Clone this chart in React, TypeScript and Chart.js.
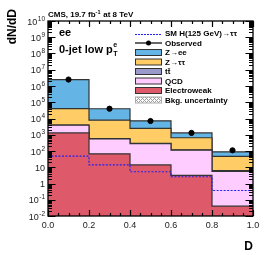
import React, { useEffect, useRef } from 'react';
import { Chart, registerables } from 'chart.js';
Chart.register(...registerables);

// ---- data ----
const binEdges = [0, 0.2, 0.4, 0.6, 0.8, 1.0];
const binCenters = [0.1, 0.3, 0.5, 0.7, 0.9];
const observed = [2.5e6, 4.0e4, 7.0e3, 1.3e3, 110];
const zee = [2.46e6, 32000, 4700, 650, 42];
const ztt = [36000, 7300, 2200, 535, 41];
const ttbar = [60, 25, 12, 5, 0.6];
const qcd = [2600, 490, 270, 109, 5.6];
const ewk = [1300, 67, 14, 3.2, 0.04];
const signal = [48, 14, 5.3, 2.6, 0.37];
const yTickExponents = [-2, -1, 0, 1, 2, 3, 4, 5, 6, 7, 8, 9, 10];
const xTickValues = [0, 0.2, 0.4, 0.6, 0.8, 1.0];
const legendLabels = ['SM H(125 GeV)\u2192\u03c4\u03c4', 'Observed', 'Z\u2192ee', 'Z\u2192\u03c4\u03c4', 'tt\u0304', 'QCD', 'Electroweak', 'Bkg. uncertainty'];

const COLORS = {
  zee: '#64B4E6',
  ztt: '#FFCC66',
  tt: '#9999CC',
  qcd: '#FFCCFF',
  ewk: '#DE5A6A',
  sig: '#2020F0',
  line: '#333333',
};
const FONT = '"Liberation Sans", Arial, Helvetica, sans-serif';

function cumulate(...arrs: number[][]): number[] {
  return arrs[0].map((_, i) => arrs.reduce((s, a) => s + a[i], 0));
}
function stepPoints(vals: number[]) {
  const v = [...vals, vals[vals.length - 1]];
  return binEdges.map((x, i) => ({ x, y: v[i] }));
}

function hatchPattern(ctx: CanvasRenderingContext2D) {
  const c = document.createElement('canvas');
  c.width = 4; c.height = 4;
  const g = c.getContext('2d')!;
  g.fillStyle = '#ffffff'; g.fillRect(0, 0, 4, 4);
  g.fillStyle = '#999999';
  g.fillRect(0, 0, 1, 1); g.fillRect(2, 2, 1, 1); g.fillRect(1, 1, 1, 1); g.fillRect(3, 3, 1, 1);
  g.fillRect(3, 1, 1, 1); g.fillRect(1, 3, 1, 1);
  return ctx.createPattern(c, 'repeat')!;
}

function drawSup(ctx: CanvasRenderingContext2D, base: string, exp: string, rightX: number, cy: number) {
  ctx.font = `9px ${FONT}`;
  const wb = ctx.measureText(base).width;
  ctx.font = `6.5px ${FONT}`;
  const we = exp ? ctx.measureText(exp).width + 0.5 : 0;
  const left = rightX - wb - we;
  ctx.textAlign = 'left';
  ctx.textBaseline = 'alphabetic';
  ctx.font = `9px ${FONT}`;
  ctx.fillText(base, left, cy + 3.5);
  if (exp) {
    ctx.font = `6.5px ${FONT}`;
    ctx.fillText(exp, left + wb + 0.5, cy - 0.5);
  }
}

const overlay = {
  id: 'overlay',
  afterDraw(chart: any) {
    const { ctx, chartArea: a, scales } = chart;
    const xs = scales.x, ys = scales.y;
    ctx.save();
    ctx.fillStyle = '#000';
    ctx.strokeStyle = '#000';
    // frame
    ctx.lineWidth = 1.3;
    ctx.strokeRect(a.left, a.top, a.right - a.left, a.bottom - a.top);
    // y ticks
    ctx.lineWidth = 1.2;
    ctx.beginPath();
    yTickExponents.forEach((k) => {
      const p = Math.round(ys.getPixelForValue(Math.pow(10, k))) + 0.5;
      ctx.moveTo(a.left, p); ctx.lineTo(a.left + 7.5, p);
      ctx.moveTo(a.right, p); ctx.lineTo(a.right - 7.5, p);
      if (k < 10) {
        for (let m = 2; m <= 9; m++) {
          const q = Math.round(ys.getPixelForValue(m * Math.pow(10, k))) + 0.5;
          ctx.moveTo(a.left, q); ctx.lineTo(a.left + 4, q);
          ctx.moveTo(a.right, q); ctx.lineTo(a.right - 4, q);
        }
      }
    });
    // x ticks
    for (let i = 0; i <= 20; i++) {
      const v = i * 0.05;
      const major = i % 4 === 0;
      const len = major ? 6 : 3;
      const p = Math.round(xs.getPixelForValue(v)) + 0.5;
      ctx.moveTo(p, a.bottom); ctx.lineTo(p, a.bottom - len);
      ctx.moveTo(p, a.top); ctx.lineTo(p, a.top + len);
    }
    ctx.stroke();
    // y labels
    ctx.fillStyle = '#222';
    yTickExponents.forEach((k) => {
      const p = ys.getPixelForValue(Math.pow(10, k));
      if (k === 0) drawSup(ctx, '1', '', 45, p);
      else if (k === 1) drawSup(ctx, '10', '', 45, p);
      else drawSup(ctx, '10', String(k), 45, p);
    });
    // x labels
    ctx.font = `9px ${FONT}`;
    ctx.textAlign = 'center';
    ctx.textBaseline = 'middle';
    xTickValues.forEach((v) => {
      ctx.fillText(v.toFixed(1), xs.getPixelForValue(v), a.bottom + 10);
    });
    // axis titles
    ctx.fillStyle = '#000';
    ctx.font = `bold 12px ${FONT}`;
    ctx.textAlign = 'right';
    ctx.textBaseline = 'alphabetic';
    ctx.fillText('D', a.right, a.bottom + 34);
    ctx.save();
    ctx.translate(16, 9);
    ctx.rotate(-Math.PI / 2);
    ctx.textAlign = 'right';
    ctx.fillText('dN/dD', 0, 0);
    ctx.restore();
    // CMS label
    ctx.textAlign = 'left';
    ctx.font = `bold 8px ${FONT}`;
    let tx = a.left;
    const ty = a.top - 4;
    const t1 = 'CMS, 19.7 fb';
    ctx.fillText(t1, tx, ty); tx += ctx.measureText(t1).width;
    ctx.font = `bold 5.5px ${FONT}`;
    ctx.fillText('-1', tx, ty - 3); tx += ctx.measureText('-1').width + 0.5;
    ctx.font = `bold 8px ${FONT}`;
    ctx.fillText(' at 8 TeV', tx, ty);
    // category labels
    ctx.font = `bold 11px ${FONT}`;
    ctx.fillText('ee', a.left + 11, a.top + 15);
    const c1 = '0-jet low p';
    const cx0 = a.left + 11, cy0 = a.top + 32;
    ctx.fillText(c1, cx0, cy0);
    const w1 = ctx.measureText(c1).width;
    ctx.font = `bold 7px ${FONT}`;
    ctx.fillText('T', cx0 + w1 + 0.5, cy0 + 3);
    ctx.fillText('e', cx0 + w1 + 0.5, cy0 - 6);
    // legend
    const rows = legendLabels.map((_, i) => a.top + 12.5 + i * 9.5);
    const bx0 = 135, bx1 = 162, tx0 = 165;
    ctx.font = `bold 8px ${FONT}`;
    ctx.textBaseline = 'middle';
    legendLabels.forEach((lab, i) => {
      const ry = rows[i];
      if (i === 0) {
        ctx.save();
        const ly = Math.round(ry) + 0.5;
        ctx.strokeStyle = COLORS.sig; ctx.lineWidth = 1; ctx.setLineDash([2, 1]);
        ctx.beginPath(); ctx.moveTo(bx0, ly); ctx.lineTo(bx1, ly); ctx.stroke();
        ctx.restore();
      } else if (i === 1) {
        ctx.save();
        ctx.strokeStyle = '#000'; ctx.lineWidth = 1.2;
        ctx.beginPath(); ctx.moveTo(bx0, ry); ctx.lineTo(bx1, ry); ctx.stroke();
        ctx.beginPath(); ctx.arc((bx0 + bx1) / 2, ry, 2.5, 0, Math.PI * 2); ctx.fill();
        ctx.restore();
      } else {
        const fills = [null, null, COLORS.zee, COLORS.ztt, COLORS.tt, COLORS.qcd, COLORS.ewk, hatchPattern(ctx)];
        ctx.save();
        ctx.fillStyle = fills[i] as any;
        ctx.fillRect(bx0, ry - 3, bx1 - bx0, 6);
        ctx.strokeStyle = i === 7 ? '#aaaaaa' : COLORS.line; ctx.lineWidth = 1;
        ctx.strokeRect(bx0 + 0.5, ry - 3, bx1 - bx0 - 1, 6);
        ctx.restore();
      }
      ctx.fillStyle = '#000';
      ctx.textAlign = 'left';
      ctx.fillText(lab, tx0, ry + 0.5);
    });
    ctx.restore();
  },
};

export default function App() {
  const ref = useRef<HTMLCanvasElement>(null);
  useEffect(() => {
    const c5 = cumulate(ewk, qcd, ttbar, ztt, zee);
    const c4 = cumulate(ewk, qcd, ttbar, ztt);
    const c3 = cumulate(ewk, qcd, ttbar);
    const c2 = cumulate(ewk, qcd);
    const c1 = cumulate(ewk);
    const stack = (label: string, vals: number[], color: string) => ({
      label,
      data: stepPoints(vals),
      stepped: 'before' as const,
      borderColor: COLORS.line,
      borderWidth: 1.2,
      backgroundColor: color,
      fill: 'start' as const,
      pointRadius: 0,
    });
    const chart = new Chart(ref.current!, {
      type: 'line',
      data: {
        datasets: [
          {
            label: 'Observed',
            data: binCenters.map((x, i) => ({ x, y: observed[i] })),
            showLine: false,
            pointRadius: 2.6,
            pointBackgroundColor: '#000',
            pointBorderColor: '#000',
            borderColor: '#000',
          },
          {
            label: 'SM H(125 GeV)',
            data: stepPoints(signal),
            stepped: 'before' as const,
            borderColor: COLORS.sig,
            borderWidth: 1.2,
            borderDash: [2, 1.5],
            fill: false,
            pointRadius: 0,
          },
          stack('Electroweak', c1, COLORS.ewk),
          stack('QCD', c2, COLORS.qcd),
          stack('tt', c3, COLORS.tt),
          stack('Z->tautau', c4, COLORS.ztt),
          stack('Z->ee', c5, COLORS.zee),
        ] as any,
      },
      options: {
        animation: false,
        responsive: false,
        devicePixelRatio: 1,
        layout: { padding: { left: 48, top: 21, right: 13, bottom: 39 } },
        plugins: { legend: { display: false }, tooltip: { enabled: false } },
        scales: {
          x: { type: 'linear', min: 0, max: 1, display: false },
          y: { type: 'logarithmic', min: 0.01, max: 1e10, display: false },
        },
      },
      plugins: [overlay],
    });
    return () => chart.destroy();
  }, []);
  return (
    <div style={{ position: 'fixed', left: 0, top: 0, width: 266, height: 255, background: '#fff' }}>
      <canvas ref={ref} width={266} height={255} style={{ width: 266, height: 255, display: 'block' }} />
    </div>
  );
}
